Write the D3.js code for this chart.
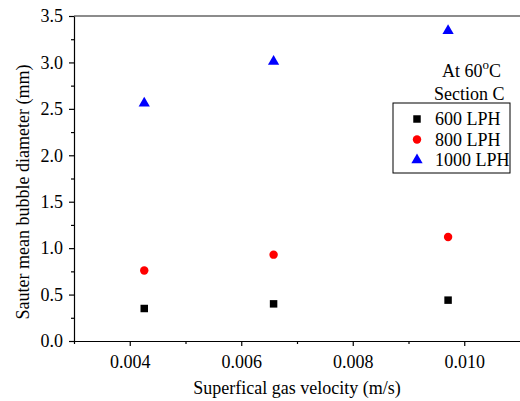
<!DOCTYPE html>
<html>
<head>
<meta charset="utf-8">
<script src="https://cdn.jsdelivr.net/npm/d3@7"></script>
<style>
  body { margin: 0; background: #fff; }
  text { font-family: "Liberation Serif", "Times New Roman", serif; fill: #000; }
</style>
</head>
<body>
<div id="chart"></div>
<script>
// Data
var velocities = [0.00426, 0.00658, 0.00971];
var seriesNames = ["600 LPH", "800 LPH", "1000 LPH"];
var d600  = [0.35, 0.40, 0.44];
var d800  = [0.76, 0.93, 1.12];
var d1000 = [2.56, 3.01, 3.34];
var xTicks = [0.004, 0.006, 0.008, 0.010];
var yTicks = [0.0, 0.5, 1.0, 1.5, 2.0, 2.5, 3.0, 3.5];

var width = 520, height = 401;
// plot area edges (note: "top" is a reserved window property, so prefix them)
var plotLeft = 74, plotRight = 520, plotTop = 16, plotBottom = 341;

var svg = d3.select("#chart").append("svg")
    .attr("width", width)
    .attr("height", height);

var x = d3.scaleLinear().domain([0.003, 0.011]).range([plotLeft, plotRight]);
var y = d3.scaleLinear().domain([0, 3.5]).range([plotBottom, plotTop]);

// top frame line
svg.append("line")
    .attr("x1", plotLeft).attr("x2", plotRight)
    .attr("y1", plotTop).attr("y2", plotTop)
    .style("stroke", "#666").style("stroke-width", 1.5);

// minor ticks first, then major axes on top
svg.append("g")
    .attr("transform", "translate(0," + plotBottom + ")")
    .call(d3.axisBottom(x).tickValues([0.003, 0.005, 0.007, 0.009]).tickSize(3).tickFormat(""))
    .call(function(g) { g.select(".domain").remove(); });

svg.append("g")
    .attr("transform", "translate(" + plotLeft + ",0)")
    .call(d3.axisLeft(y).tickValues(d3.range(0.25, 3.5, 0.5)).tickSize(3).tickFormat(""))
    .call(function(g) { g.select(".domain").remove(); });

var xAxis = svg.append("g")
    .attr("transform", "translate(0," + plotBottom + ")")
    .call(d3.axisBottom(x).tickValues(xTicks).tickSize(5).tickSizeOuter(0).tickPadding(9)
      .tickFormat(d3.format(".3f")));

var yAxis = svg.append("g")
    .attr("transform", "translate(" + plotLeft + ",0)")
    .call(d3.axisLeft(y).tickValues(yTicks).tickSize(5).tickSizeOuter(0).tickPadding(6)
      .tickFormat(d3.format(".1f")));

svg.selectAll(".tick text")
    .style("font-size", "18px")
    .style("font-family", "'Liberation Serif', serif");
svg.selectAll(".domain, .tick line").style("stroke", "#000").style("stroke-width", 1.2);

// axis titles
svg.append("text")
    .attr("x", (plotLeft + plotRight) / 2)
    .attr("y", 394)
    .attr("text-anchor", "middle")
    .style("font-size", "18px")
    .text("Superfical gas velocity (m/s)");

svg.append("text")
    .attr("transform", "translate(29,192) rotate(-90)")
    .attr("text-anchor", "middle")
    .style("font-size", "18px")
    .text("Sauter mean bubble diameter (mm)");

// markers
var sym = [d3.symbolSquare, d3.symbolCircle, d3.symbolTriangle];
var sizes = [56, 56, 55];
var colors = ["#000000", "#ff0000", "#0000ff"];
var allSeries = [d600, d800, d1000];

allSeries.forEach(function(vals, i) {
  svg.append("g").selectAll("path")
    .data(vals)
    .enter()
    .append("path")
      .attr("d", d3.symbol().type(sym[i]).size(sizes[i]))
      .attr("transform", function(d, j) { return "translate(" + x(velocities[j]) + "," + y(d) + ")"; })
      .style("fill", colors[i]);
});

// annotation
var ann = svg.append("text")
    .attr("x", 442).attr("y", 77)
    .style("font-size", "18px");
ann.append("tspan").text("At 60");
ann.append("tspan").attr("dy", -8).style("font-size", "13px").text("o");
ann.append("tspan").attr("dy", 8).text("C");

svg.append("text")
    .attr("x", 434).attr("y", 100)
    .style("font-size", "18px")
    .text("Section C");

// legend
var legend = svg.append("g");
legend.append("rect")
    .attr("x", 393).attr("y", 103)
    .attr("width", 117).attr("height", 70)
    .style("fill", "none").style("stroke", "#000").style("stroke-width", 1);

seriesNames.forEach(function(name, i) {
  var ly = 119 + i * 20.5;
  legend.append("path")
    .attr("d", d3.symbol().type(sym[i]).size(sizes[i]))
    .attr("transform", "translate(417," + ly + ")")
    .style("fill", colors[i]);
  legend.append("text")
    .attr("x", 435).attr("y", ly + 6)
    .style("font-size", "18px")
    .text(name);
});
</script>
</body>
</html>
